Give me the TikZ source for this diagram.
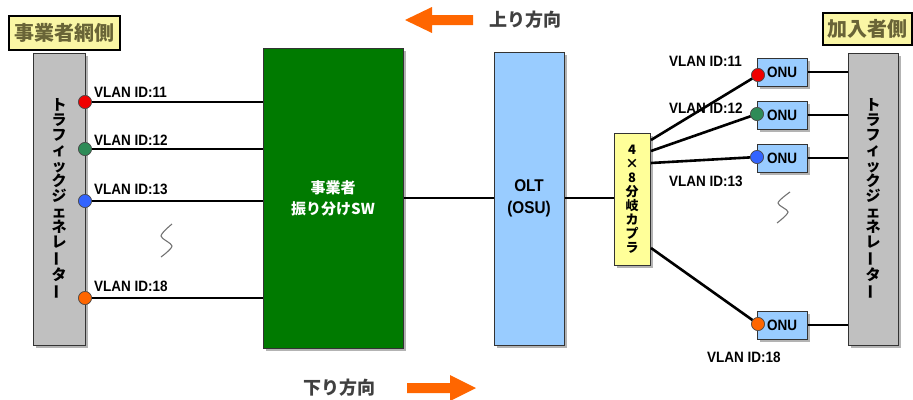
\documentclass[tikz,border=0pt]{standalone}
\usepackage{fontspec}
\newfontfamily\jp{Noto Sans CJK JP}
\newfontfamily\lat{Liberation Sans}[FakeStretch=0.9]
\usetikzlibrary{shadows}
\definecolor{swgreen}{RGB}{0,122,0}
\definecolor{oltblue}{RGB}{153,204,255}
\definecolor{barGray}{RGB}{192,192,192}
\definecolor{cplyel}{RGB}{255,255,153}
\definecolor{lblyel}{RGB}{250,246,165}
\definecolor{lbltxt}{RGB}{105,100,55}
\definecolor{arrowor}{RGB}{255,102,0}
\definecolor{dirtxt}{RGB}{64,64,64}
\definecolor{cred}{RGB}{240,0,0}
\definecolor{cgreen}{RGB}{46,139,87}
\definecolor{cblue}{RGB}{50,100,255}
\definecolor{corange}{RGB}{255,102,0}
\newcommand\myvbar{\rotatebox[origin=c]{90}{ー}}
\begin{document}
\begin{tikzpicture}[x=1pt,y=-1pt,
  shadowed/.style={drop shadow={shadow xshift=3pt,shadow yshift=-3pt,fill=black!50,opacity=0.6}},
  box/.style={draw=black!80,line width=1pt,shadowed,inner sep=0pt},
  bar/.style={box,fill=barGray,minimum width=52pt,minimum height=292pt},
  onu/.style={box,fill=oltblue,minimum width=50pt,minimum height=28pt,font=\lat\bfseries\fontsize{15}{15}\selectfont},
  port/.style={circle,draw=black!70,line width=0.6pt,minimum size=13pt,inner sep=0pt},
  link/.style={line width=2.6pt,black},
  vlan/.style={font=\lat\bfseries\fontsize{15}{15}\selectfont,inner sep=0pt},
  sidelbl/.style={draw=black,line width=1.6pt,fill=lblyel,text=lbltxt,font=\jp\bfseries\fontsize{20}{20}\selectfont,inner sep=0pt},
  squig/.style={draw=black!55,line width=1.1pt},
  dirlbl/.style={text=dirtxt,font=\jp\bfseries\fontsize{18}{18}\selectfont,inner sep=0pt},
  vtext/.style={align=center,font=\jp\bfseries\fontsize{15}{15.3}\selectfont}
]
\useasboundingbox (0,0) rectangle (913,399);

% side labels
\node[sidelbl,minimum width=111pt,minimum height=34pt] (lblL) at (64.5,33) {事業者網側};
\node[sidelbl,minimum width=89pt,minimum height=32pt] (lblR) at (867.5,29) {加入者側};

% direction arrows
\fill[arrowor] (473,15) -- (432,15) -- (432,7) -- (405,20) -- (432,33) -- (432,25) -- (473,25) -- cycle;
\node[dirlbl,anchor=west] (up) at (489,20) {上り方向};
\fill[arrowor] (407,383) -- (450,383) -- (450,375) -- (476,388) -- (450,401) -- (450,393) -- (407,393) -- cycle;
\node[dirlbl,anchor=west] (down) at (303,388) {下り方向};

% main boxes
\node[bar] (genL) at (59,199) {};
\node[vtext] at (genL.center) {ト\\ラ\\フ\\ィ\\ッ\\ク\\ジ\\ェ\\ネ\\レ\\\myvbar\\タ\\\myvbar};
\node[bar,minimum width=50pt] (genR) at (873,199) {};
\node[vtext] at (genR.center) {ト\\ラ\\フ\\ィ\\ッ\\ク\\ジ\\ェ\\ネ\\レ\\\myvbar\\タ\\\myvbar};

\node[box,fill=swgreen,minimum width=140pt,minimum height=300pt,text=white,align=center,
      font=\jp\bfseries\fontsize{15}{21}\selectfont] (sw) at (333,198) {事業者\\振り分けSW};
\node[box,fill=oltblue,minimum width=70pt,minimum height=293pt,align=center,
      font=\lat\bfseries\fontsize{17}{22}\selectfont] (olt) at (529,198.5) {OLT\\(OSU)};
\node[box,fill=cplyel,minimum width=36pt,minimum height=132pt,align=center,
      font=\jp\bfseries\fontsize{13}{14}\selectfont] (cpl) at (632,199) {4\\×\\8\\分\\岐\\カ\\プ\\ラ};

% ONUs
\node[onu] (onu1) at (782,72) {ONU};
\node[onu] (onu2) at (782,115) {ONU};
\node[onu] (onu3) at (782,158) {ONU};
\node[onu] (onu4) at (782,325) {ONU};

% left ports
\node[port,fill=cred] (l1) at (85,102) {};
\node[port,fill=cgreen] (l2) at (85,149) {};
\node[port,fill=cblue] (l3) at (85,201) {};
\node[port,fill=corange] (l4) at (85,298) {};

% left VLAN labels
\node[vlan,anchor=west] at (94,92) {VLAN ID:11};
\node[vlan,anchor=west] at (94,140) {VLAN ID:12};
\node[vlan,anchor=west] at (94,189) {VLAN ID:13};
\node[vlan,anchor=west] at (94,286) {VLAN ID:18};

% right VLAN labels
\node[vlan,anchor=west] at (669,61) {VLAN ID:11};
\node[vlan,anchor=west] at (669,108) {VLAN ID:12};
\node[vlan,anchor=west] at (669,181) {VLAN ID:13};
\node[vlan,anchor=west] at (707,357) {VLAN ID:18};

% links left
\draw[link] (l1) -- (sw.west |- l1);
\draw[link] (l2) -- (sw.west |- l2);
\draw[link] (l3) -- (sw.west |- l3);
\draw[link] (l4) -- (sw.west |- l4);
\draw[link] (sw.east |- 0,198) -- (olt.west |- 0,198);
\draw[link] (olt.east |- 0,198) -- (cpl.west |- 0,198);

% coupler outputs
\coordinate (c1) at (651,140);
\coordinate (c2) at (651,151);
\coordinate (c3) at (651,163);
\coordinate (c4) at (651,248);
\node[port,fill=cred] (r1) at (758,75) {};
\node[port,fill=cgreen] (r2) at (757,114) {};
\node[port,fill=cblue] (r3) at (757,157) {};
\node[port,fill=corange] (r4) at (758,324) {};
\draw[link] (c1) -- (r1);
\draw[link] (c2) -- (r2);
\draw[link] (c3) -- (r3);
\draw[link] (c4) -- (r4);
\node[port,fill=cred] at (r1) {};
\node[port,fill=cgreen] at (r2) {};
\node[port,fill=cblue] at (r3) {};
\node[port,fill=corange] at (r4) {};

% ONU to generator
\draw[link] (onu1.east) -- (genR.west |- onu1.east);
\draw[link] (onu2.east) -- (genR.west |- onu2.east);
\draw[link] (onu3.east) -- (genR.west |- onu3.east);
\draw[link] (onu4.east) -- (genR.west |- onu4.east);

% left port circles on top
\node[port,fill=cred] at (l1) {};
\node[port,fill=cgreen] at (l2) {};
\node[port,fill=cblue] at (l3) {};
\node[port,fill=corange] at (l4) {};

% squiggles
\draw[squig] plot[smooth] coordinates {(172,224) (161,236) (172,246) (161,257)};
\draw[squig] plot[smooth] coordinates {(790,192) (778,203) (788,212) (777,223)};
\end{tikzpicture}
\end{document}
